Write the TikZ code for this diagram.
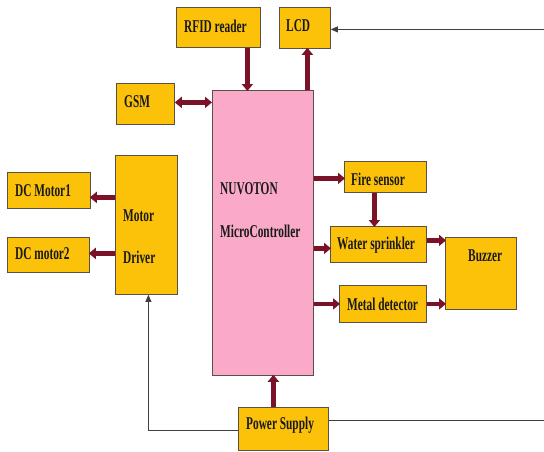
\documentclass[tikz,border=0pt]{standalone}
\usepackage{fontspec}
\setmainfont{Liberation Serif}[FakeStretch=0.63]
\usetikzlibrary{arrows.meta}
\definecolor{boxy}{RGB}{252,194,10}
\definecolor{pinkmc}{RGB}{250,170,200}
\definecolor{maroon}{RGB}{122,18,40}
\definecolor{edge}{RGB}{90,80,70}
\tikzset{
  box/.style={draw=edge, line width=0.8pt, fill=boxy, anchor=north west, inner sep=0pt},
  mcbox/.style={draw=edge, line width=0.8pt, fill=pinkmc, anchor=north west, inner sep=0pt},
  txt/.style={anchor=west, inner sep=0pt, font=\fontsize{18}{21}\selectfont\bfseries, text=black!90},
  big/.style={draw=maroon, line width=4.5pt, -{Triangle[width=11pt,length=7pt]}, shorten >=-1pt},
  bigboth/.style={draw=maroon, line width=4.5pt, {Triangle[width=11pt,length=7pt]}-{Triangle[width=11pt,length=7pt]}},
  wire/.style={draw=black!75, line width=0.8pt, -{Triangle[width=6pt,length=7pt]}}
}
\begin{document}
\begin{tikzpicture}[x=1pt,y=-1pt]
\useasboundingbox[fill=white] (0,0) rectangle (544,451);
\clip (0,0) rectangle (544,451);
% boxes
\node[box, minimum width=84pt, minimum height=40pt] (rfid) at (176,7) {};
\node[box, minimum width=51pt, minimum height=41pt] (lcd) at (279,7) {};
\node[box, minimum width=58pt, minimum height=41pt] (gsm) at (116,83) {};
\node[mcbox, minimum width=101pt, minimum height=285pt] (mc) at (212,90) {};
\node[box, minimum width=62pt, minimum height=139pt] (md) at (115,155) {};
\node[box, minimum width=83pt, minimum height=36pt] (dcm1) at (7,172) {};
\node[box, minimum width=82pt, minimum height=35pt] (dcm2) at (7,237) {};
\node[box, minimum width=82pt, minimum height=31pt] (fire) at (344,161) {};
\node[box, minimum width=96pt, minimum height=36pt] (water) at (330,226) {};
\node[box, minimum width=87pt, minimum height=37pt] (metal) at (339,285) {};
\node[box, minimum width=71pt, minimum height=72pt] (buzz) at (445,237) {};
\node[box, minimum width=90pt, minimum height=43pt] (ps) at (238,407) {};
% texts
\node[txt] (trfid) at (184,26) {RFID reader};
\node[txt] (tlcd) at (286,26) {LCD};
\node[txt] (tgsm) at (124,102) {GSM};
\node[txt] (tnuv) at (220,189) {NUVOTON};
\node[txt] (tmc) at (220,231) {MicroController};
\node[txt] (tdc1) at (15,191) {DC Motor1};
\node[txt] (tdc2) at (15,254) {DC motor2};
\node[txt] (tmot) at (123,216) {Motor};
\node[txt] (tdrv) at (123,257) {Driver};
\node[txt] (tfire) at (351,179) {Fire sensor};
\node[txt] (twater) at (337,245) {Water sprinkler};
\node[txt] (tmetal) at (347,304) {Metal detector};
\node[txt] (tbuzz) at (468,256) {Buzzer};
\node[txt] (tps) at (246,425) {Power Supply};
% thick arrows
\draw[big] ([xshift=29pt]rfid.south) -- ([xshift=29pt]rfid.south |- mc.north);
\draw[big] ([xshift=2.5pt]lcd.south |- mc.north) -- ([xshift=2.5pt]lcd.south);
\draw[bigboth] ([yshift=1.5pt]gsm.east) -- ([yshift=1.5pt]gsm.east -| mc.west);
\draw[big] ([yshift=-7pt]dcm1.east -| md.west) -- ([yshift=-7pt]dcm1.east);
\draw[big] ([yshift=1.5pt]dcm2.east -| md.west) -- ([yshift=1.5pt]dcm2.east);
\draw[big] ([yshift=-1.5pt]fire.west -| mc.east) -- ([yshift=-1.5pt]fire.west);
\draw[big] ([yshift=-4pt]water.west -| mc.east) -- ([yshift=-4pt]water.west);
\draw[big] ([xshift=-11pt]fire.south) -- ([xshift=-11pt]fire.south |- water.north);
\draw[big] ([yshift=4pt]water.east) -- ([yshift=4pt]water.east -| buzz.west);
\draw[big] (metal.west -| mc.east) -- (metal.west);
\draw[big] (metal.east) -- (metal.east -| buzz.west);
\draw[big] ([xshift=-10pt]ps.north) -- ([xshift=-10pt]ps.north |- mc.south);
% thin wires
\coordinate (r1) at (550,420);
\draw[wire] ([yshift=8.5pt]ps.east) -- ([yshift=8.5pt]ps.east -| r1) -- (r1) |- ([yshift=-1.5pt]lcd.east);
\draw[wire] ([yshift=-1.5pt]ps.west) -| ([xshift=2pt]md.south);
\end{tikzpicture}
\end{document}
